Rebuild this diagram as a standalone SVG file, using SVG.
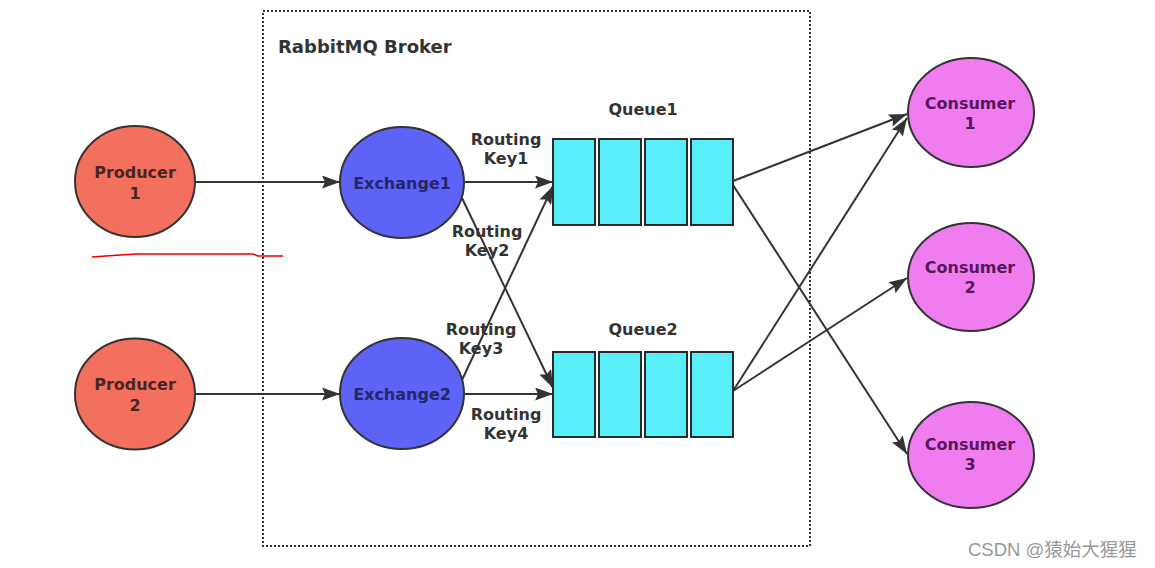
<svg xmlns="http://www.w3.org/2000/svg" width="1155" height="568" viewBox="0 0 1155 568">
<defs>
<marker id="arr" viewBox="0 0 18 13" refX="18" refY="6.5" markerWidth="18" markerHeight="13" markerUnits="userSpaceOnUse" orient="auto">
<path d="M0,0 L18,6.5 L0,13 L3,6.5 Z" fill="#333"/>
</marker>
</defs>
<style>
.lbl{font-family:"DejaVu Sans",sans-serif;font-weight:bold;font-size:16px;text-anchor:middle}
.edge{stroke:#333;stroke-width:2;fill:none;marker-end:url(#arr)}
.prod{fill:#f4705e;stroke:#333;stroke-width:2}
.exch{fill:#5d63f6;stroke:#333;stroke-width:2}
.cons{fill:#f07df0;stroke:#333;stroke-width:2}
.cell{fill:#58eefa;stroke:#2a2a2a;stroke-width:2}
.pt{fill:#4a2622}
.et{fill:#24276a}
.ct{fill:#56185a}
.dt{fill:#333}
</style>
<rect width="1155" height="568" fill="#fff"/>
<g id="broker">
<rect x="263" y="11" width="547" height="535" fill="none" stroke="#333" stroke-width="2" stroke-dasharray="2 2"/>
<text x="278" y="53" style="font-family:'DejaVu Sans',sans-serif;font-weight:bold;font-size:18px" fill="#333">RabbitMQ Broker</text>
</g>
<polyline points="92,257 120,255 137,254 253,254 258,256 283,256" fill="none" stroke="#e00" stroke-width="1.5"/>
<g id="connectors">
<line class="edge" x1="195" y1="182" x2="340" y2="182"/>
<line class="edge" x1="195" y1="394" x2="340" y2="394"/>
<line class="edge" x1="465" y1="182" x2="553" y2="182"/>
<line class="edge" x1="462" y1="198" x2="553" y2="388"/>
<line class="edge" x1="462" y1="380" x2="553" y2="186"/>
<line class="edge" x1="465" y1="394" x2="553" y2="394"/>
<line class="edge" x1="733" y1="181" x2="907" y2="114"/>
<line class="edge" x1="733" y1="185" x2="907" y2="454"/>
<line class="edge" x1="733" y1="391" x2="907" y2="118"/>
<line class="edge" x1="733" y1="391" x2="907" y2="278"/>
</g>
<g id="producer1">
<ellipse class="prod" cx="135" cy="181.5" rx="60" ry="55.5"/>
<text class="lbl pt" x="135" y="178">Producer</text>
<text class="lbl pt" x="135" y="199">1</text>
</g>
<g id="producer2">
<ellipse class="prod" cx="135" cy="394" rx="60" ry="55.5"/>
<text class="lbl pt" x="135" y="390">Producer</text>
<text class="lbl pt" x="135" y="411">2</text>
</g>
<g id="exchange1">
<ellipse class="exch" cx="402" cy="182.5" rx="62" ry="55.5"/>
<text class="lbl et" x="402" y="189">Exchange1</text>
</g>
<g id="exchange2">
<ellipse class="exch" cx="402" cy="393.5" rx="62" ry="55.5"/>
<text class="lbl et" x="402" y="400">Exchange2</text>
</g>
<g id="queue1">
<rect class="cell" x="553" y="139" width="42" height="86"/>
<rect class="cell" x="599" y="139" width="42" height="86"/>
<rect class="cell" x="645" y="139" width="42" height="86"/>
<rect class="cell" x="691" y="139" width="42" height="86"/>
<text class="lbl dt" x="643" y="115">Queue1</text>
</g>
<g id="queue2">
<rect class="cell" x="553" y="352" width="42" height="85"/>
<rect class="cell" x="599" y="352" width="42" height="85"/>
<rect class="cell" x="645" y="352" width="42" height="85"/>
<rect class="cell" x="691" y="352" width="42" height="85"/>
<text class="lbl dt" x="643" y="335">Queue2</text>
</g>
<g id="labels">
<text class="lbl dt" x="506" y="145">Routing</text>
<text class="lbl dt" x="506" y="164">Key1</text>
<text class="lbl dt" x="487" y="237">Routing</text>
<text class="lbl dt" x="487" y="256">Key2</text>
<text class="lbl dt" x="481" y="335">Routing</text>
<text class="lbl dt" x="481" y="354">Key3</text>
<text class="lbl dt" x="506" y="420">Routing</text>
<text class="lbl dt" x="506" y="439">Key4</text>
</g>
<g id="consumer1">
<ellipse class="cons" cx="971" cy="112.5" rx="63" ry="54.5"/>
<text class="lbl ct" x="970" y="109">Consumer</text>
<text class="lbl ct" x="970" y="129">1</text>
</g>
<g id="consumer2">
<ellipse class="cons" cx="971" cy="277" rx="63" ry="54"/>
<text class="lbl ct" x="970" y="273">Consumer</text>
<text class="lbl ct" x="970" y="293">2</text>
</g>
<g id="consumer3">
<ellipse class="cons" cx="971" cy="455" rx="63" ry="53"/>
<text class="lbl ct" x="970" y="450">Consumer</text>
<text class="lbl ct" x="970" y="470">3</text>
</g>
<text x="968" y="556" style="font-family:'Liberation Sans','Noto Sans CJK SC',sans-serif;font-size:18.5px" fill="#999">CSDN @猿始大猩猩</text>
</svg>
